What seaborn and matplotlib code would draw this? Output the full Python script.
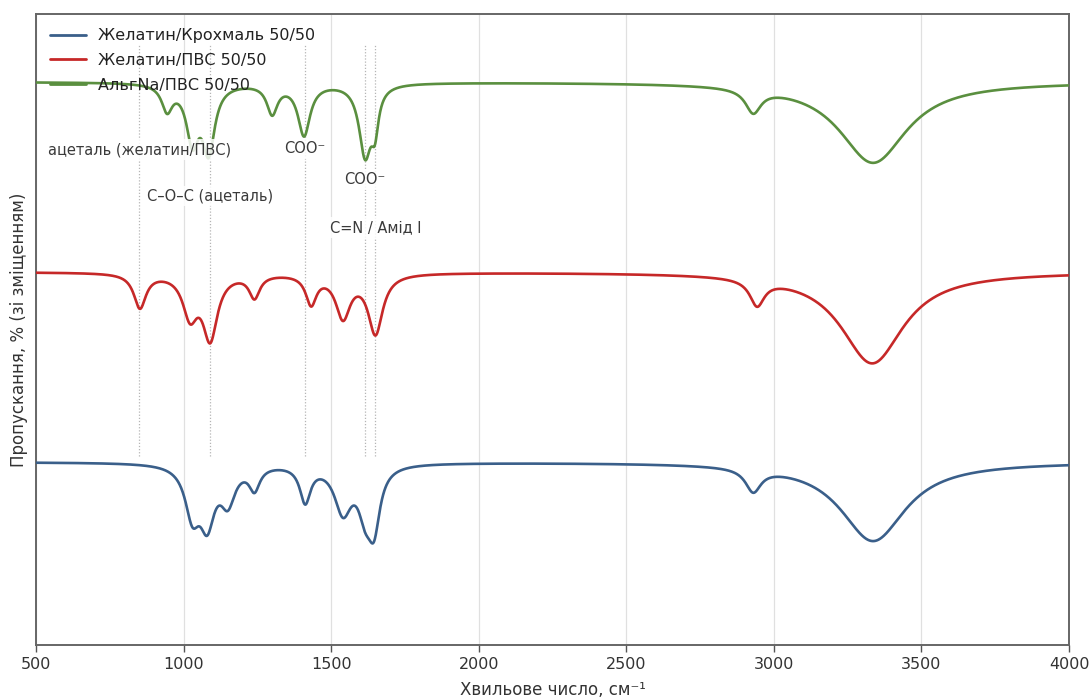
import numpy as np
import pandas as pd
import matplotlib
matplotlib.use("Agg")
import matplotlib.pyplot as plt
import seaborn as sns

# ---- spectra: series names, vertical offsets and absorption bands ----
series_names = ["Желатин/Крохмаль 50/50", "Желатин/ПВС 50/50", "АльгNa/ПВС 50/50"]
series_colors = ["#3a5f8a", "#c62828", "#5a8f3f"]
series_offsets = [0.0, 40.0, 80.0]
baseline = 100.0

# band centres (cm-1), depths (% T) and half-widths (cm-1)
starch_centers = [1030, 1080, 1150, 1240, 1412, 1540, 1615, 1645, 2930, 3336]
starch_depths = [10.1, 11.4, 7.4, 4.8, 7.6, 9.7, 8.0, 11.8, 4.8, 16.6]
starch_widths = [30, 30, 30, 22, 22, 35, 28, 25, 32, 135]

pva_centers = [852, 1022, 1090, 1240, 1432, 1540, 1650, 2943, 3333]
pva_depths = [7.2, 8.5, 13.3, 4.8, 6.1, 9.0, 12.5, 5.4, 19.2]
pva_widths = [25, 30, 30, 22, 22, 30, 30, 30, 130]

alg_centers = [944, 1030, 1085, 1300, 1408, 1615, 1648, 2930, 3336]
alg_depths = [5.3, 11.6, 13.7, 6.1, 10.8, 14.8, 7.6, 4.9, 17.0]
alg_widths = [22, 25, 25, 22, 25, 25, 15, 32, 140]

# marked band positions and their labels
marker_positions = [850, 1090, 1410, 1615, 1650]
label_texts = ["ацеталь (желатин/ПВС)", "C–O–C (ацеталь)", "COO⁻", "COO⁻", "C=N / Амід I"]
label_x = [850, 1090, 1410, 1615, 1650]
label_y = [165.7, 156.0, 165.9, 159.4, 149.3]

wavenumber = np.linspace(500, 4000, 3501)


def spectrum(centers, depths, widths, offset):
    absorb = np.zeros_like(wavenumber)
    for c, d, w in zip(centers, depths, widths):
        absorb += d / (1.0 + ((wavenumber - c) / w) ** 2)
    return baseline + offset - absorb


bands = [
    (starch_centers, starch_depths, starch_widths),
    (pva_centers, pva_depths, pva_widths),
    (alg_centers, alg_depths, alg_widths),
]
frames = []
for name, (c, d, w), off in zip(series_names, bands, series_offsets):
    frames.append(pd.DataFrame({"x": wavenumber, "T": spectrum(c, d, w, off), "series": name}))
df = pd.concat(frames, ignore_index=True)

sns.set_theme(style="white")
plt.rcParams["font.family"] = ["DejaVu Sans"]

fig, ax = plt.subplots(figsize=(10.92, 6.98), dpi=100)
fig.subplots_adjust(left=0.033, right=0.979, bottom=0.076, top=0.980)

ax.vlines(marker_positions, 101.3, 187.8, colors="#b5b5b5",
          linestyles=(0, (1, 1.5)), linewidth=0.9, zorder=1)

sns.lineplot(data=df, x="x", y="T", hue="series", hue_order=series_names,
             palette=series_colors, estimator=None, sort=False,
             linewidth=1.9, ax=ax, zorder=3)

for txt, x, y in zip(label_texts, label_x, label_y):
    ax.text(x, y, txt, ha="center", va="center", fontsize=10.5, color="#3a3a3a",
            zorder=4,
            bbox=dict(boxstyle="square,pad=0.2", facecolor="white",
                      edgecolor="none", alpha=0.85))

ax.set_xlim(500, 4000)
ax.set_ylim(61.5, 194.3)
ax.set_xticks([500, 1000, 1500, 2000, 2500, 3000, 3500, 4000])
ax.set_yticks([])
ax.grid(axis="x", color="#e0e0e0", linewidth=0.9)
ax.set_axisbelow(True)
ax.tick_params(axis="x", bottom=True, length=5, width=1.0, color="#555555",
               labelsize=11.5, labelcolor="#333333", pad=4)
for sp in ax.spines.values():
    sp.set_color("#666666")
    sp.set_linewidth(1.4)

ax.set_xlabel("Хвильове число, см⁻¹", fontsize=12, color="#333333", labelpad=6)
ax.set_ylabel("Пропускання, % (зі зміщенням)", fontsize=12, color="#333333", labelpad=6)

leg = ax.legend(loc="upper left", frameon=False, fontsize=11.5, handlelength=2.2,
                borderaxespad=0.5, labelspacing=0.6)
for line in leg.get_lines():
    line.set_linewidth(2.0)
for t in leg.get_texts():
    t.set_color("#222222")

fig.savefig("out.png", dpi=100)
